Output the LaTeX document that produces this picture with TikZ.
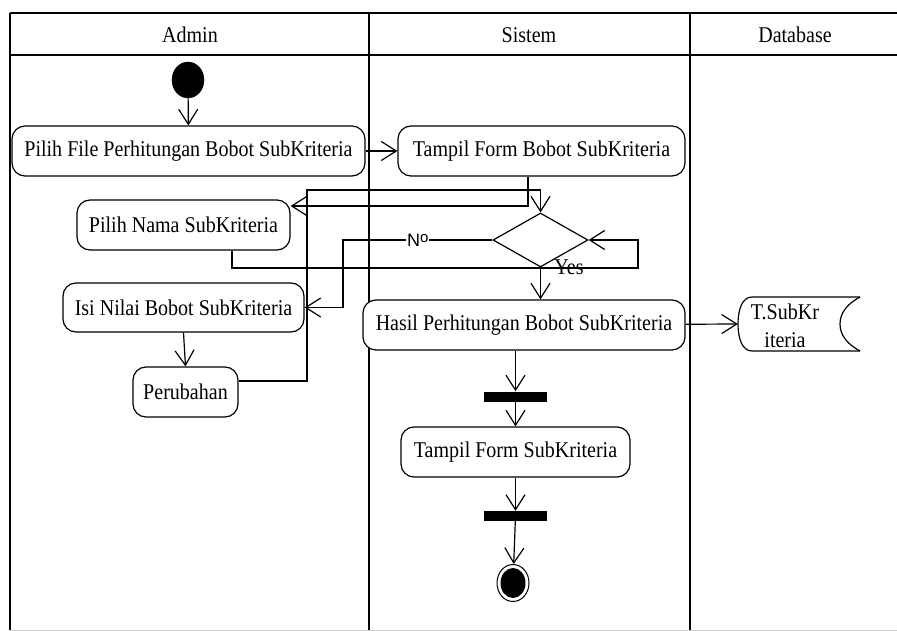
\documentclass[tikz,border=0pt]{standalone}
\usepackage{fontspec}
\setmainfont[FakeStretch=0.89]{Liberation Serif}
\newfontfamily\labelsans{Liberation Sans}
\usetikzlibrary{arrows.meta,shapes.geometric,calc}

\begin{document}
\begin{tikzpicture}[x=1pt,y=-1pt,
  txt/.style={font=\fontsize{22.5}{24}\selectfont},
  flow/.style={line width=1.2pt, -{Straight Barb[length=15pt,width=19pt]}},
  lane/.style={line width=1.2pt},
  act/.style={draw, line width=1.2pt, rounded corners=13pt, fill=white,
    inner sep=0pt, minimum height=50pt, txt},
  bar/.style={fill=black, inner sep=0pt, minimum width=63pt, minimum height=10pt},
]
\useasboundingbox (0,0) rectangle (897,631);

% swimlane frame
\draw[lane] (10,13) -- (897,13);
\draw[lane] (10,55) -- (897,55);
\draw[lane] (10,13) -- (10,630);
\draw[lane] (369,13) -- (369,630);
\draw[lane] (690,13) -- (690,630);
\draw[gray!40] (10,630) -- (897,630);

\node[txt] (hadmin) at (190,35) {Admin};
\node[txt] (hsistem) at (529,35) {Sistem};
\node[txt] (hdb) at (795,35) {Database};

% activities
\node[draw, fill=black, ellipse, minimum width=32pt, minimum height=36pt, inner sep=0pt] (start) at (188,80) {};
\node[act, minimum width=353pt] (pilihfile) at (188.5,151) {Pilih File Perhitungan Bobot SubKriteria};
\node[act, minimum width=287pt] (tampilbobot) at (541.5,151) {Tampil Form Bobot SubKriteria};
\node[act, minimum width=213pt] (pilihnama) at (183.5,225) {Pilih Nama SubKriteria};
\node[draw, diamond, line width=1.2pt, minimum width=95pt, minimum height=54pt, inner sep=0pt] (dec) at (540.5,240) {};
\node[act, minimum width=241pt, minimum height=49pt] (isi) at (183.5,307.5) {Isi Nilai Bobot SubKriteria};
\node[act, minimum width=105pt] (perubahan) at (185.5,392) {Perubahan};
\node[act, minimum width=322pt] (hasil) at (524,325) {Hasil Perhitungan Bobot SubKriteria};
\node[act, minimum width=229pt] (tampilsub) at (515.5,452) {Tampil Form SubKriteria};
\node[bar] (fork1) at (515.5,396.5) {};
\node[bar] (fork2) at (515.5,516) {};
\node[draw, ellipse, line width=1pt, minimum width=32pt, minimum height=37pt, inner sep=0pt,
  path picture={\fill[black] (path picture bounding box.center) ellipse [x radius=12.5pt, y radius=15pt];}] (end) at (513,583) {};

% data store
\node[minimum width=122pt, minimum height=54pt, inner sep=0pt] (store) at (799,324) {};
\draw[line width=1.2pt] (860,297) -- (752,297)
  .. controls (742,297) and (738,310) .. (738,324)
  .. controls (738,338) and (742,351) .. (752,351) -- (860,351);
\draw[line width=1.2pt] (860,297) .. controls (847,304) and (840,313) .. (840,324)
  .. controls (840,335) and (847,344) .. (860,351);
\node[font=\fontsize{22.5}{28}\selectfont, align=center, inner sep=0pt] (storetext) at (785,326) {T.SubKr\\iteria};

% flows
\draw[flow] (start) -- (pilihfile);
\draw[flow] (pilihfile) -- (tampilbobot);
\draw[flow] ([xshift=-13.5pt]tampilbobot.south) |- ([yshift=19pt]pilihnama.east);
\draw[flow] ([yshift=11pt]perubahan.east) -| (307,190) -| (dec.north);
\draw[flow] ([xshift=48.5pt]pilihnama.south) |- (638,268) |- (dec.east);
\draw[flow] (dec.west) -- node[fill=white, inner sep=1pt, font=\labelsans\fontsize{18}{18}\selectfont]
  {N\raisebox{0.35ex}{\fontsize{15}{15}\selectfont o}} (343,240) |- (isi.east);
\draw[flow] (dec.south) -- (dec.south |- hasil.north);
\node[txt, inner sep=0pt] (yes) at (569,267) {Yes};
\draw[flow] (hasil) -- (store.west);
\draw[flow] (isi.south) -- (perubahan.north);
\draw[flow] (hasil.south -| fork1) -- (fork1.north);
\draw[flow] (fork1) -- (tampilsub);
\draw[flow] (tampilsub) -- (fork2);
\draw[flow] (fork2) -- (end);
\end{tikzpicture}
\end{document}
